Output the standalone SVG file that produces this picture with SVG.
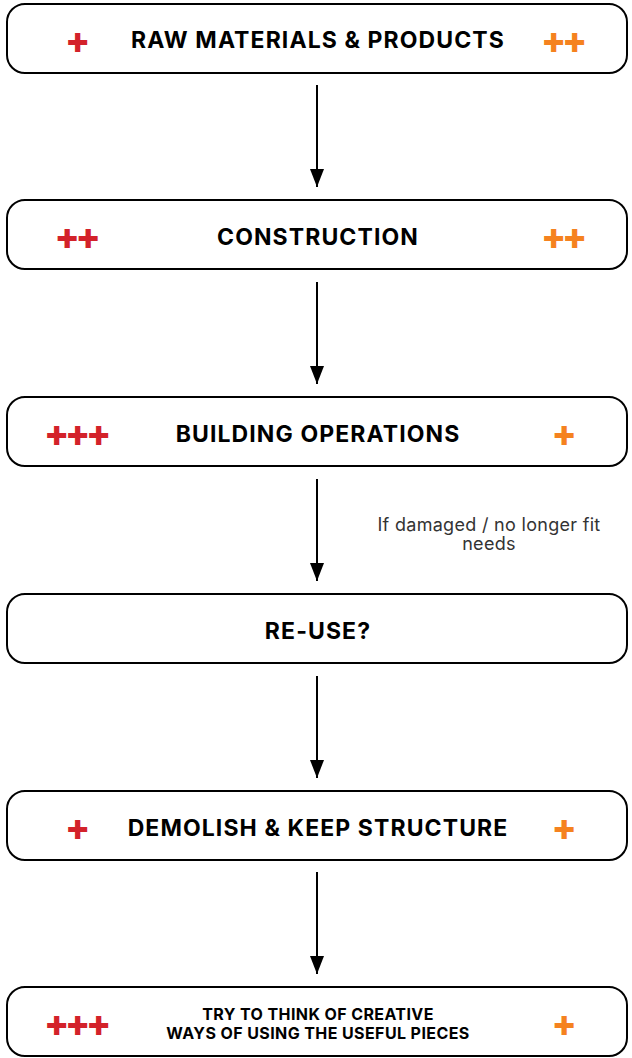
<svg xmlns="http://www.w3.org/2000/svg" width="632" height="1058" viewBox="0 0 632 1058">
<defs>
<style>
.box{fill:#fff;stroke:#000;stroke-width:2}
.t{font-family:Inter,"Liberation Sans",sans-serif;font-weight:700;font-size:23px;letter-spacing:1.1px;fill:#000;text-anchor:middle}
.t2{font-family:Inter,"Liberation Sans",sans-serif;font-weight:700;font-size:16px;letter-spacing:0.4px;fill:#000;text-anchor:middle}
.r{font-family:Inter,"Liberation Sans",sans-serif;font-weight:800;font-size:37px;letter-spacing:-4.3px;fill:#d3222a;text-anchor:middle}
.o{font-family:Inter,"Liberation Sans",sans-serif;font-weight:800;font-size:37px;letter-spacing:-4.3px;fill:#f5821f;text-anchor:middle}
.lbl{font-family:Inter,"Liberation Sans",sans-serif;font-size:18px;letter-spacing:0.3px;fill:#333;text-anchor:middle}
.c{stroke:#000;stroke-width:2;fill:none}
</style>
<marker id="ah" markerWidth="18" markerHeight="14" refX="18" refY="7" orient="auto" markerUnits="userSpaceOnUse">
<path d="M0,0 L18,7 L0,14 Z" fill="#000"/>
</marker>
</defs>
<rect width="632" height="1058" fill="#fff"/>
<g id="connectors">
<line class="c" x1="317" y1="85" x2="317" y2="187" marker-end="url(#ah)"/>
<line class="c" x1="317" y1="282" x2="317" y2="384" marker-end="url(#ah)"/>
<line class="c" x1="317" y1="479" x2="317" y2="581" marker-end="url(#ah)"/>
<line class="c" x1="317" y1="676" x2="317" y2="778" marker-end="url(#ah)"/>
<line class="c" x1="317" y1="872" x2="317" y2="974" marker-end="url(#ah)"/>
<text class="lbl" x="489" y="531">If damaged / no longer fit</text>
<text class="lbl" x="489" y="550">needs</text>
</g>
<g id="n1">
<rect class="box" x="7" y="4" width="620" height="69" rx="18"/>
<text class="r" x="75.5" y="52.5">+</text>
<text class="t" x="318" y="48">RAW MATERIALS &amp; PRODUCTS</text>
<text class="o" x="562" y="52.5">++</text>
</g>
<g id="n2">
<rect class="box" x="7" y="200" width="620" height="69" rx="18"/>
<text class="r" x="75.5" y="248.5">++</text>
<text class="t" x="318" y="245">CONSTRUCTION</text>
<text class="o" x="562" y="248.5">++</text>
</g>
<g id="n3">
<rect class="box" x="7" y="397" width="620" height="69" rx="18"/>
<text class="r" x="75.5" y="445.5">+++</text>
<text class="t" x="318" y="442">BUILDING OPERATIONS</text>
<text class="o" x="562" y="445.5">+</text>
</g>
<g id="n4">
<rect class="box" x="7" y="594" width="620" height="69" rx="18"/>
<text class="t" x="318" y="639">RE-USE?</text>
</g>
<g id="n5">
<rect class="box" x="7" y="791" width="620" height="69" rx="18"/>
<text class="r" x="75.5" y="839.5">+</text>
<text class="t" x="318" y="836">DEMOLISH &amp; KEEP STRUCTURE</text>
<text class="o" x="562" y="839.5">+</text>
</g>
<g id="n6">
<rect class="box" x="7" y="987" width="620" height="69" rx="18"/>
<text class="r" x="75.5" y="1035.5">+++</text>
<text class="t2" x="318" y="1020">TRY TO THINK OF CREATIVE</text>
<text class="t2" x="318" y="1039">WAYS OF USING THE USEFUL PIECES</text>
<text class="o" x="562" y="1035.5">+</text>
</g>
</svg>
